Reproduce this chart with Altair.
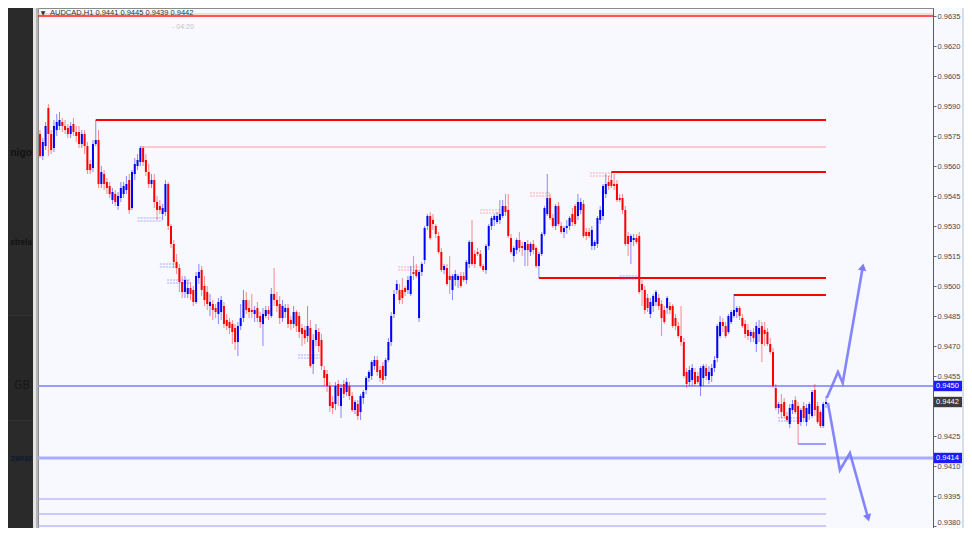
import altair as alt
import pandas as pd

# ---------------- data (candle values in pips above 0.9000, e.g. 576 -> 0.9576) ----------------
opens = [
    576, 565, 570, 589, 576, 569, 578, 580, 582, 580,
    579, 576, 581, 577, 577, 571, 576, 570, 561, 559,
    571, 573, 551, 556, 552, 550, 543, 546, 540, 544,
    546, 548, 553, 539, 556, 560, 562, 569, 563, 557,
    551, 553, 542, 540, 536, 537, 551, 530, 521,
    512, 509, 502, 497, 496, 499, 498, 492, 504, 508,
    500, 497, 490, 491, 489, 486, 487, 490, 483, 482,
    481, 479, 472, 480, 484, 493, 489, 488, 486, 489,
    485, 481, 485, 488, 485, 496, 493, 491, 484, 487,
    489, 483, 481, 487, 485, 479, 478, 475, 479, 461,
    473, 477, 473, 458, 456, 450, 442, 441, 451, 440,
    451, 447, 450, 445, 438, 441, 437, 444, 448, 454,
    455, 460, 463, 458, 460, 455, 463, 472, 486, 498,
    498, 498, 499, 498, 496, 507, 508, 484, 507, 513,
    530, 535, 533, 530, 525, 517, 508, 509, 505, 498,
    503, 503, 505, 505, 503, 511, 522, 516, 517, 516,
    510, 508, 520, 530, 533, 532, 533, 535, 540, 538,
    524, 515, 518, 523, 520, 518, 521, 517, 521, 519,
    510,
    516, 526, 536, 544, 534, 530, 540, 530, 527, 529,
    530, 536, 540, 535, 538, 541, 527, 527, 520, 520,
    521, 533, 535, 546, 552, 553, 551,
    551, 544, 544, 538, 525, 522, 523, 524, 525, 501,
    498, 494, 486, 490, 492, 494, 491, 488, 489, 490,
    490, 484, 480, 475, 472, 457, 452, 453, 457, 455,
    450, 454, 459, 453, 455, 459, 464, 475, 482, 480,
    477, 482, 485,
    487, 489, 484, 481, 478, 475, 477, 471, 476, 480,
    478, 477, 471, 467, 449, 439, 441, 442, 435, 431,
    438, 443, 440, 432, 440, 432, 436, 435, 448, 440,
    437, 430, 441,
]
highs = [
    578, 574, 582, 591, 578, 583, 586, 587, 584, 583,
    581, 582, 584, 580, 580, 578, 578, 572, 563, 573,
    583, 578, 560, 558, 554, 552, 549, 548, 547, 552,
    552, 555, 556, 558, 564, 566, 570, 570, 566, 561,
    556, 556, 545, 543, 541, 553, 552, 531, 523,
    516, 511, 505, 505, 503, 502, 500, 507, 511, 510,
    505, 500, 496, 493, 491, 494, 495, 492, 486, 484,
    483, 481, 482, 491, 498, 497, 493, 496, 490, 492,
    487, 489, 490, 490, 499, 509, 497, 495, 493, 491,
    491, 485, 490, 488, 487, 481, 480, 490, 483, 476,
    481, 479, 476, 460, 458, 452, 445, 452, 453, 451,
    453, 454, 452, 447, 443, 443, 446, 448, 455, 458,
    463, 465, 465, 460, 462, 464, 474, 487, 498, 503,
    501, 504, 500, 505, 510, 515, 511, 508, 512, 530,
    536, 537, 536, 531, 527, 519, 511, 511, 515, 506,
    508, 506, 507, 507, 513, 523, 533, 518, 519, 518,
    511, 521, 531, 535, 536, 537, 543, 543, 546, 546,
    526, 520, 524, 527, 522, 522, 523, 522, 523, 520,
    517,
    527, 540, 556, 546, 536, 541, 542, 532, 530, 533,
    535, 539, 541, 546, 544, 543, 529, 529, 530, 523,
    535, 540, 551, 556, 555, 557, 556,
    553, 546, 546, 540, 527, 526, 526, 526, 527, 503,
    500, 496, 494, 496, 498, 496, 493, 490, 495, 492,
    491, 486, 482, 490, 474, 459, 460, 461, 459, 457,
    460, 461, 461, 460, 461, 465, 481, 485, 484, 482,
    486, 488, 496,
    490, 490, 486, 483, 481, 478, 479, 482, 483, 482,
    482, 479, 474, 469, 451, 442, 446, 444, 437, 441,
    443, 445, 442, 439, 442, 441, 442, 448, 451, 442,
    438, 442, 445,
]
lows = [
    564, 563, 568, 565, 566, 567, 575, 578, 577, 576,
    574, 574, 575, 572, 569, 569, 566, 556, 556, 557,
    570, 549, 549, 548, 546, 544, 541, 540, 538, 542,
    544, 546, 536, 538, 553, 558, 560, 560, 555, 549,
    549, 539, 533, 536, 533, 535, 528, 519, 509,
    506, 497, 494, 494, 494, 493, 490, 491, 501, 495,
    490, 488, 485, 483, 484, 481, 483, 479, 478, 476,
    471, 468, 465, 478, 482, 486, 484, 484, 482, 482,
    479, 470, 484, 483, 484, 490, 487, 481, 482, 484,
    479, 478, 479, 477, 474, 470, 471, 472, 459, 456,
    470, 467, 458, 450, 447, 437, 436, 438, 440, 434,
    444, 445, 443, 437, 436, 433, 433, 441, 446, 452,
    453, 458, 455, 452, 451, 453, 462, 470, 484, 496,
    491, 491, 495, 496, 495, 503, 504, 482, 505, 511,
    528, 523, 528, 524, 516, 507, 506, 500, 496, 493,
    500, 499, 499, 502, 501, 509, 510, 509, 515, 509,
    507, 506, 518, 528, 530, 531, 531, 534, 535, 524,
    516, 512, 516, 517, 515, 510, 510, 515, 516, 509,
    504,
    515, 525, 535, 533, 529, 528, 530, 526, 524, 526,
    528, 530, 530, 533, 536, 524, 523, 524, 518, 518,
    519, 531, 533, 544, 548, 549, 548,
    542, 542, 536, 520, 515, 511, 520, 521, 496, 490,
    486, 487, 484, 487, 490, 488, 475, 481, 486, 486,
    479, 478, 474, 470, 454, 449, 450, 450, 450, 451,
    445, 450, 453, 451, 452, 457, 462, 474, 477, 474,
    476, 481, 484,
    484, 483, 479, 474, 473, 472, 472, 467, 472, 462,
    470, 470, 466, 449, 438, 436, 434, 434, 432, 429,
    436, 436, 421, 430, 432, 430, 433, 434, 435, 431,
    429, 429, 439,
]
closes = [
    565, 572, 580, 576, 568, 580, 582, 583, 580, 578,
    576, 580, 577, 575, 571, 576, 570, 558, 558, 571,
    573, 551, 557, 551, 549, 546, 547, 542, 545, 549,
    550, 551, 538, 557, 561, 563, 569, 562, 557, 551,
    553, 542, 538, 538, 539, 551, 530, 521, 512,
    509, 502, 497, 503, 499, 496, 492, 505, 507, 498,
    493, 491, 492, 488, 487, 492, 493, 481, 480, 479,
    477, 472, 480, 484, 493, 488, 487, 487, 488, 484,
    482, 486, 488, 486, 496, 493, 490, 484, 490, 489,
    481, 481, 487, 480, 477, 476, 474, 480, 460, 473,
    478, 470, 460, 454, 450, 440, 439, 450, 445, 449,
    446, 452, 445, 438, 442, 435, 445, 447, 454, 457,
    462, 463, 457, 454, 453, 463, 472, 485, 496, 501,
    493, 494, 497, 503, 505, 506, 505, 507, 511, 529,
    535, 524, 531, 526, 517, 508, 510, 501, 503, 505,
    506, 505, 500, 503, 512, 522, 511, 511, 516, 510,
    508, 520, 530, 534, 535, 535, 536, 540, 537, 525,
    517, 519, 523, 519, 519, 522, 518, 521, 518, 510,
    516,
    526, 539, 544, 534, 530, 540, 531, 527, 529, 530,
    534, 532, 531, 542, 542, 525, 525, 525, 528, 522,
    534, 538, 550, 551, 550, 550, 550,
    543, 543, 538, 521, 521, 525, 524, 522, 497, 498,
    488, 489, 492, 495, 497, 490, 484, 482, 494, 488,
    480, 480, 475, 472, 455, 451, 458, 459, 451, 452,
    459, 460, 455, 457, 459, 463, 480, 482, 480, 475,
    485, 487, 488,
    489, 485, 480, 476, 475, 477, 474, 480, 479, 471,
    476, 471, 467, 450, 439, 441, 437, 435, 433, 439,
    441, 437, 431, 438, 434, 439, 441, 447, 438, 432,
    430, 441, 442,
]

# price-axis labels (0.9440 sits under the current-price box, so it is left out)
tick_values = [0.9380, 0.9395, 0.9410, 0.9425, 0.9455, 0.9470, 0.9485, 0.9500,
               0.9515, 0.9530, 0.9545, 0.9560, 0.9575, 0.9590, 0.9605, 0.9620, 0.9635]

# horizontal levels
top_red_price = [0.9635]
top_pink_price = [0.9636]
blue_full_prices = [0.9450]
blue_thick_prices = [0.9414]
blue_low_prices = [0.93935, 0.9386, 0.9380]
red_level_start = [20, 205, 179, 249]
red_level_price = [0.9583, 0.9557, 0.9504, 0.94955]
pink_level_start = [36]
pink_level_price = [0.95695]
blue_level_start = [272]
blue_level_price = [0.9421]

# small dashed order marks (buy = blue, sell = pink)
sell_start = [128.5, 128.5, 157.9, 157.9, 175.8, 175.8, 197.3, 197.3]
sell_end = [136.3, 136.3, 165.8, 165.8, 183.0, 183.0, 205.2, 205.2]
sell_price = [0.95095, 0.95080, 0.95380, 0.95365, 0.95465, 0.95450, 0.95565, 0.95550]
buy_start = [35.0, 35.0, 43.0, 43.0, 45.6, 45.6, 92.6, 92.6, 208.0, 208.0, 264.8, 264.8]
buy_end = [43.8, 43.8, 49.0, 49.0, 53.8, 53.8, 100.5, 100.5, 215.3, 215.3, 272.7, 272.7]
buy_price = [0.95340, 0.95325, 0.95110, 0.95095, 0.95030, 0.95015, 0.94655, 0.94640,
             0.95050, 0.95035, 0.94340, 0.94325]

# drawn scenario arrows
arrow_path = ["up", "up", "up", "up", "down", "down", "down", "down"]
arrow_i = [282.3, 286.3, 288.0, 295.2, 282.7, 287.0, 290.6, 297.1]
arrow_p = [0.94440, 0.94570, 0.94515, 0.95095, 0.94415, 0.94080, 0.94165, 0.93840]
head_i = [295.2, 297.1]
head_p = [0.95095, 0.93840]
head_angle = [10, 164]

# highlighted price labels
box_blue_prices = [0.9450, 0.9414]
box_gray_prices = [0.9442]

# ---------------- frames ----------------
n = len(opens)
last_i = n - 1
candles = pd.DataFrame({
    "i": list(range(n)),
    "open": [0.9 + v / 10000 for v in opens],
    "high": [0.9 + v / 10000 for v in highs],
    "low": [0.9 + v / 10000 for v in lows],
    "close": [0.9 + v / 10000 for v in closes],
})
candles["dir"] = ["up" if c > o else "down" for o, c in zip(opens, closes)]

X_MIN, X_MAX = -0.72, 320.4
W, H = 895, 520
xscale = alt.Scale(domain=[X_MIN, X_MAX], nice=False, zero=False)
yscale = alt.Scale(domain=[0.9379, 0.9639], nice=False, zero=False)
yaxis = alt.Axis(orient="right", values=tick_values, format=".4f", title=None, grid=False,
                 labelFontSize=7.5, labelFont="Liberation Sans", labelColor="#4a4a4a",
                 tickSize=3, tickColor="#6a6a6a", domainColor="#5a5a5a", labelPadding=1,
                 labelOverlap=False, labelBound=False, labelFlush=False,
                 labelBaseline=alt.ExprRef(expr="datum.value < 0.9385 ? 'bottom' : 'middle'"))


def X(f):
    return alt.X(f, type="quantitative", scale=xscale, axis=None, title=None)


def Y(f):
    return alt.Y(f, type="quantitative", scale=yscale, axis=yaxis, title=None)


def hline_full(prices, color, width, opacity=1.0):
    df = pd.DataFrame({"p": prices})
    return alt.Chart(df).mark_rule(color=color, strokeWidth=width, opacity=opacity).encode(
        x=alt.value(0), x2=alt.value(W), y=Y("p"))


def hline_from(starts, prices, color, width):
    df = pd.DataFrame({"s": starts, "e": [last_i] * len(starts), "p": prices})
    return alt.Chart(df).mark_rule(color=color, strokeWidth=width).encode(
        x=X("s"), x2="e:Q", y=Y("p"))


layers = []
layers.append(hline_full(top_pink_price, "#ffb4b4", 1))
layers.append(hline_full(top_red_price, "#ff1e1e", 1.6))
layers.append(hline_full(blue_full_prices, "#9a9aff", 2))
layers.append(hline_full(blue_thick_prices, "#ababff", 3))
layers.append(hline_from([X_MIN] * len(blue_low_prices), blue_low_prices, "#9c9cff", 1))
layers.append(hline_from(red_level_start, red_level_price, "#ff0000", 2))
layers.append(hline_from(pink_level_start, pink_level_price, "#ff9c9c", 1))
layers.append(hline_from(blue_level_start, blue_level_price, "#8080ff", 1.5))

sell_df = pd.DataFrame({"s": sell_start, "e": sell_end, "p": sell_price})
buy_df = pd.DataFrame({"s": buy_start, "e": buy_end, "p": buy_price})
layers.append(alt.Chart(sell_df).mark_rule(color="#ff6a6a", strokeWidth=1, strokeDash=[2, 1], opacity=0.55)
              .encode(x=X("s"), x2="e:Q", y=Y("p")))
layers.append(alt.Chart(buy_df).mark_rule(color="#6a6aff", strokeWidth=1, strokeDash=[2, 1], opacity=0.55)
              .encode(x=X("s"), x2="e:Q", y=Y("p")))

ccolor = alt.Color("dir:N", scale=alt.Scale(domain=["up", "down"], range=["#0000ff", "#ff0000"]), legend=None)
layers.append(alt.Chart(candles).mark_rule(strokeWidth=1, opacity=0.45).encode(
    x=X("i"), y=Y("low"), y2="high:Q", color=ccolor))
layers.append(alt.Chart(candles).mark_rule(strokeWidth=2).encode(
    x=X("i"), y=Y("open"), y2="close:Q", color=ccolor))

arrows = pd.DataFrame({"path": arrow_path, "i": arrow_i, "p": arrow_p,
                       "seq": list(range(len(arrow_i)))})
layers.append(alt.Chart(arrows).mark_line(color="#7878ff", strokeWidth=2.6, opacity=0.9,
                                           strokeJoin="miter").encode(
    x=X("i"), y=Y("p"), detail="path:N", order="seq:Q"))
heads = pd.DataFrame({"i": head_i, "p": head_p, "a": head_angle})
layers.append(alt.Chart(heads).mark_point(shape="triangle-up", filled=True, size=70,
                                           color="#7878ff", opacity=0.95).encode(
    x=X("i"), y=Y("p"), angle=alt.Angle("a:Q", scale=None)))

# highlighted price labels on the axis
bb = pd.DataFrame({"p": box_blue_prices})
bb["t"] = bb["p"] + 0.00026
bb["b"] = bb["p"] - 0.00026
bb["lab"] = [f"{v:.4f}" for v in box_blue_prices]
bg = pd.DataFrame({"p": box_gray_prices})
bg["t"] = bg["p"] + 0.00026
bg["b"] = bg["p"] - 0.00026
bg["lab"] = [f"{v:.4f}" for v in box_gray_prices]
for df, col in ((bb, "#1c1cff"), (bg, "#3c3c3c")):
    layers.append(alt.Chart(df).mark_rect(color=col).encode(
        x=alt.value(W + 1), x2=alt.value(W + 29), y=Y("t"), y2="b:Q"))
    layers.append(alt.Chart(df).mark_text(align="left", baseline="middle", fontSize=7.5,
                                          font="Liberation Sans", color="white").encode(
        x=alt.value(W + 3), y=Y("p"), text="lab:N"))

# ---------------- decoration (window chrome) ----------------
one = pd.DataFrame({"k": [0]})


def box(x0, x1, y0, y1, color):
    return alt.Chart(one).mark_rect(color=color).encode(
        x=alt.value(x0), x2=alt.value(x1), y=alt.value(y0), y2=alt.value(y1))


def label(txt, x, y, color, size, weight="normal", align="right", font="Roboto"):
    return alt.Chart(one).mark_text(align=align, baseline="middle", fontSize=size, fontWeight=weight,
                                    color=color, font=font).encode(
        x=alt.value(x), y=alt.value(y), text=alt.value(txt))


layers.append(box(-30, -5, 0, H, "#2a2a2a"))
layers.append(box(-30, -5, 307, 412, "#272727"))
layers.append(box(-30, -5, 307, 308, "#333333"))
layers.append(box(-30, -5, 412, 413, "#333333"))
layers.append(label("nigo", -6, 145, "#141414", 11, "bold"))
layers.append(label("strela", -6, 234, "#141414", 8.5, "bold"))
layers.append(label("GB", -8, 377, "#171717", 12))
layers.append(label("zenar", -6, 450, "#0f1b30", 8.5, "bold"))
layers.append(box(-5, -2, 0, H, "#e4e4e4"))
layers.append(box(-2, 0, 0, H, "#b4b4b4"))
layers.append(box(W + 29, W + 32, 0, H, "#d5dfea"))
layers.append(label("\u25bc", 5, 4.5, "#333333", 6, align="center", font="DejaVu Sans"))
layers.append(label("AUDCAD,H1  0.9441 0.9445 0.9439 0.9442", 12, 4.5, "#333333", 7.5,
                    align="left", font="Liberation Sans"))
layers.append(label("- 04:20", 134, 19, "#c4c4c4", 7, align="left", font="Liberation Sans"))

chart = alt.layer(*layers).properties(
    width=W, height=H,
    autosize=alt.AutoSizeParams(type="none"),
    padding={"left": 30, "top": 0, "right": 31, "bottom": 0},
    background="#f8f8ff",
).configure_view(stroke="#8a8a8a", fill="#f8f8ff")

chart.save("out.html", embed_options={"renderer": "svg", "actions": False})
